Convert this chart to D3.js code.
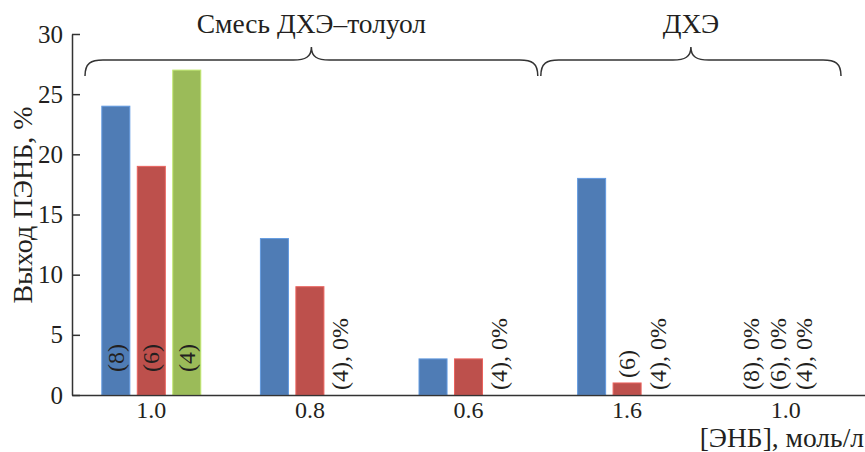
<!DOCTYPE html>
<html>
<head>
<meta charset="utf-8">
<script src="https://cdn.jsdelivr.net/npm/d3@7"></script>
<style>
  html, body { margin: 0; padding: 0; background: #fff; }
  svg { display: block; }
</style>
</head>
<body>
<svg id="chart" width="865" height="452"></svg>
<script>
// [ЭНБ] concentration groups (first three: ДХЭ–toluene mixture, last two: pure ДХЭ)
const categories = ["1.0", "0.8", "0.6", "1.6", "1.0"];
const seriesKeys = ["8", "6", "4"];
const seriesColors = ["#4f7cb5", "#bd504c", "#9bbb59"];

// ПЭНБ yield, %
const values8 = [24, 13, 3, 18, 0];
const values6 = [19, 9, 3, 1, 0];
const values4 = [27, 0, 0, 0, 0];

// Catalyst labels written on the bars
const labels8 = ["(8)", null, null, null, "(8), 0%"];
const labels6 = ["(6)", null, null, "(6)", "(6), 0%"];
const labels4 = ["(4)", "(4), 0%", "(4), 0%", "(4), 0%", "(4), 0%"];

const yTicks = [0, 5, 10, 15, 20, 25, 30];

// Solvent brackets over the groups
const bracketLabels = ["Смесь ДХЭ–толуол", "ДХЭ"];
const bracketFrom = [0, 3];
const bracketTo = [2, 4];

const seriesValues = [values8, values6, values4];
const seriesLabels = [labels8, labels6, labels4];

const FONT = "'Liberation Serif', 'Times New Roman', 'DejaVu Serif', serif";
const INK = "#231f20";
const svg = d3.select("#chart");
const plotLeft = 72, plotRight = 865, plotTop = 34, plotBottom = 395;
const FS = 24;      // tick and bar labels
const FS_T = 27.5;  // titles

const x0 = d3.scaleBand()
  .domain(d3.range(categories.length))
  .range([plotLeft, plotRight])
  .paddingInner(0.376)
  .paddingOuter(0.188);

const x1 = d3.scaleBand()
  .domain(seriesKeys)
  .range([0, x0.bandwidth()])
  .paddingInner(0.21);

const y = d3.scaleLinear().domain([0, 30]).range([plotBottom, plotTop]);

// bars
const bars = [];
seriesKeys.forEach((k, si) => {
  seriesValues[si].forEach((v, gi) => {
    bars.push({ g: gi, s: k, si, v, label: seriesLabels[si][gi] });
  });
});

svg.append("g").selectAll("rect")
  .data(bars.filter(d => d.v > 0))
  .join("rect")
  .attr("x", d => x0(d.g) + x1(d.s))
  .attr("y", d => y(d.v))
  .attr("width", x1.bandwidth())
  .attr("height", d => y(0) - y(d.v))
  .attr("fill", d => seriesColors[d.si])
  .attr("stroke", d => d3.color(seriesColors[d.si]).brighter(0.6))
  .attr("stroke-width", 1);

// axes
const yAxis = d3.axisLeft(y)
  .tickValues(yTicks)
  .tickSizeInner(-8)
  .tickSizeOuter(0)
  .tickPadding(9);

const gy = svg.append("g").attr("transform", `translate(${plotLeft},0)`).call(yAxis)
  .attr("font-family", FONT).attr("font-size", 25);
gy.select(".domain").attr("stroke", "#333").attr("stroke-width", 1.5);
gy.selectAll(".tick line").attr("stroke", "#333").attr("stroke-width", 1.5);
gy.selectAll(".tick text").attr("fill", INK);

const xAxis = d3.axisBottom(x0)
  .tickFormat(i => categories[i])
  .tickSize(0)
  .tickPadding(6);

const gx = svg.append("g").attr("transform", `translate(0,${plotBottom})`).call(xAxis)
  .attr("font-family", FONT).attr("font-size", FS);
gx.select(".domain").attr("stroke", "#333").attr("stroke-width", 1.5);
gx.selectAll(".tick text").attr("fill", INK);

// bar labels (rotated, reading upward)
const allZero = categories.map((c, gi) => seriesValues.every(s => s[gi] === 0));
svg.append("g").selectAll("text")
  .data(bars.filter(d => d.label))
  .join("text")
  .attr("transform", d => {
    let cx = x0(d.g) + x1(d.s) + x1.bandwidth() / 2;
    if (d.v === 0) cx -= 5;
    if (allZero[d.g]) cx = x0(d.g) + x0.bandwidth() / 2 - 8 + (d.si - 1) * 26.5;
    const sy = d.v >= 5 ? y(0) - 23 : y(d.v) - 5;
    return `translate(${cx},${sy}) rotate(-90)`;
  })
  .attr("dominant-baseline", "central")
  .attr("font-family", FONT)
  .attr("font-size", FS)
  .attr("fill", INK)
  .text(d => d.label);

// axis titles
svg.append("text")
  .attr("transform", `translate(22,205) rotate(-90)`)
  .attr("text-anchor", "middle")
  .attr("dominant-baseline", "central")
  .attr("font-family", FONT)
  .attr("font-size", 28)
  .attr("fill", INK)
  .text("Выход ПЭНБ, %");

svg.append("text")
  .attr("x", 864)
  .attr("y", 447)
  .attr("text-anchor", "end")
  .attr("font-family", FONT)
  .attr("font-size", FS_T)
  .attr("fill", INK)
  .text("[ЭНБ], моль/л");

// curly brackets with solvent names
const step = x0.step();
const bInsetL = [13, -7];
const bInsetR = [10, 24];
function bracePath(xa, xb, xt) {
  const yEnd = 76, yMid = 60, yTip = 47, r = 18;
  return `M${xa},${yEnd} C${xa},${yMid + 3} ${xa + 6},${yMid} ${xa + r},${yMid}` +
    ` L${xt - r},${yMid} C${xt - 6},${yMid} ${xt},${yMid - 3} ${xt},${yTip}` +
    ` C${xt},${yMid - 3} ${xt + 6},${yMid} ${xt + r},${yMid}` +
    ` L${xb - r},${yMid} C${xb - 6},${yMid} ${xb},${yMid + 3} ${xb},${yEnd}`;
}
bracketLabels.forEach((lab, i) => {
  const xa = plotLeft + bracketFrom[i] * step + bInsetL[i];
  const xb = plotLeft + (bracketTo[i] + 1) * step - bInsetR[i];
  const xt = (xa + xb) / 2;
  svg.append("path")
    .attr("d", bracePath(xa, xb, xt))
    .attr("fill", "none")
    .attr("stroke", "#333")
    .attr("stroke-width", 1.5);
  svg.append("text")
    .attr("x", xt)
    .attr("y", 33)
    .attr("text-anchor", "middle")
    .attr("font-family", FONT)
    .attr("font-size", FS_T)
    .attr("fill", INK)
    .text(lab);
});
</script>
</body>
</html>
